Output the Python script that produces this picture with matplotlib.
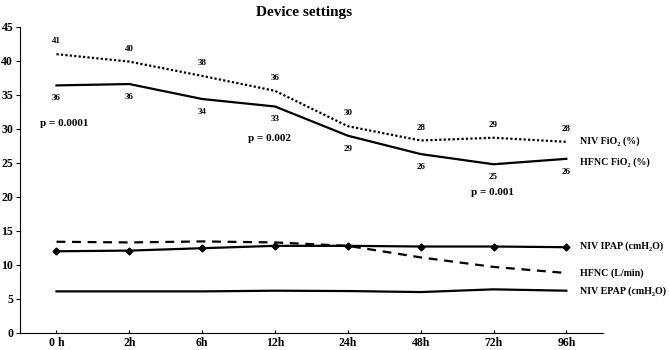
import matplotlib
matplotlib.use("Agg")
import matplotlib.pyplot as plt

plt.rcParams['font.family'] = ['Liberation Serif', 'DejaVu Serif']

# time points
times = ['0 h', '2h', '6h', '12h', '24h', '48h', '72h', '96h']

# FiO2 series
niv_fio2 = [41.0, 39.9, 37.8, 35.6, 30.4, 28.3, 28.7, 28.1]
niv_fio2_lbl = ['41', '40', '38', '36', '30', '28', '29', '28']
hfnc_fio2 = [36.4, 36.6, 34.4, 33.3, 29.0, 26.3, 24.8, 25.6]
hfnc_fio2_lbl = ['36', '36', '34', '33', '29', '26', '25', '26']

# pressure / flow series
niv_ipap = [12.0, 12.1, 12.45, 12.8, 12.8, 12.7, 12.7, 12.6]
hfnc_flow = [13.4, 13.3, 13.45, 13.3, 12.8, 11.1, 9.7, 8.8]
niv_epap = [6.1, 6.1, 6.1, 6.2, 6.15, 6.0, 6.4, 6.2]

# p-values
p_texts = ['p = 0.0001', 'p = 0.002', 'p = 0.001']
p_x = [0.1, 2.93, 5.98]
p_y = [30.8, 28.6, 20.7]

# series names on the right
names = ['NIV FiO₂ (%)', 'HFNC FiO₂ (%)', 'NIV IPAP (cmH₂O)', 'HFNC (L/min)', 'NIV EPAP (cmH₂O)']
names_y = [28.2, 25.1, 12.7, 8.8, 6.1]

fig = plt.figure(figsize=(6.69, 3.5), dpi=100)
ax = fig.add_axes([0.030, 0.049, 0.871, 0.874])
x = list(range(len(times)))

ax.plot(x, niv_fio2, color='black', lw=1.6, linestyle=(0, (1, 1)))
ax.plot(x, hfnc_fio2, color='black', lw=1.6)
ax.plot(x, niv_ipap, color='black', lw=1.6, marker='D', markersize=3.5)
ax.plot(x, hfnc_flow, color='black', lw=1.6, linestyle=(0, (4, 3)))
ax.plot(x, niv_epap, color='black', lw=1.6)

for i in x:
    ax.text(i, niv_fio2[i] + 1.3, niv_fio2_lbl[i], ha='center', va='bottom',
            fontsize=6.5, fontweight='bold')
    ax.text(i, hfnc_fio2[i] - 1.3, hfnc_fio2_lbl[i], ha='center', va='top',
            fontsize=6.5, fontweight='bold')

for t, px, py in zip(p_texts, p_x, p_y):
    ax.text(px, py, t, ha='center', va='center', fontsize=8, fontweight='bold')

for n, ny in zip(names, names_y):
    ax.text(7.19, ny, n, va='center', fontsize=7.2, fontweight='bold', clip_on=False)

ax.set_xlim(-0.5, 7.5)
ax.set_ylim(0, 45)
ax.set_yticks(range(0, 46, 5))
ax.set_xticks(x)
ax.set_xticklabels(times, fontsize=8.5, fontweight='bold')
for lbl in ax.get_yticklabels():
    lbl.set_fontsize(8.5)
    lbl.set_fontweight('bold')
ax.tick_params(axis='x', length=2, direction='in', pad=3)
ax.tick_params(axis='y', length=3, pad=2)
ax.spines['top'].set_visible(False)
ax.spines['right'].set_visible(False)

fig.text(0.455, 0.965, 'Device settings', ha='center', va='center',
         fontsize=11, fontweight='bold')

fig.savefig('out.png', dpi=100)
